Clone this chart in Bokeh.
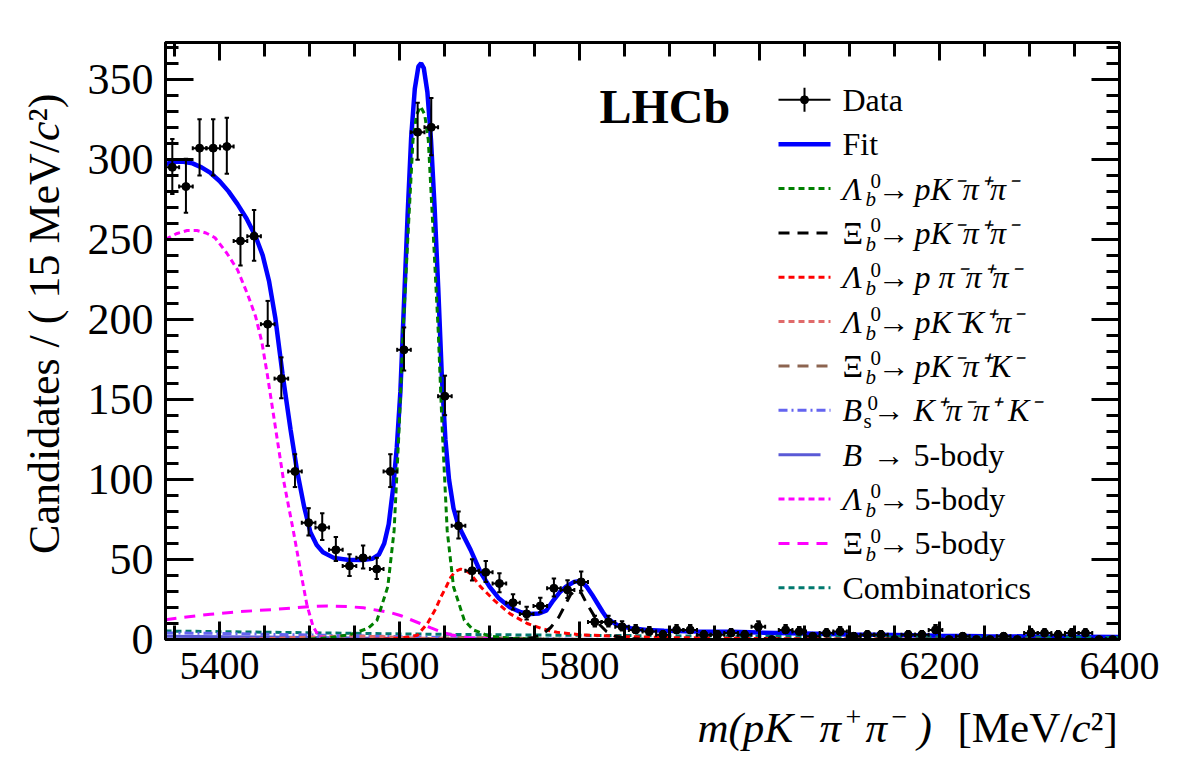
import numpy as np
from bokeh.plotting import figure
from bokeh.layouts import row, column
from bokeh.models import Range1d, LinearAxis, FixedTicker, ColumnDataSource
from bokeh.core.properties import value
from bokeh.embed import file_html
from bokeh.resources import INLINE

SERIF = "Liberation Serif"

# ---------------------------------------------------------------- data ----
# m(pK-pi+pi-) histogram: 70 bins between 5340 and 6400 MeV/c^2
mass_lo, mass_hi, n_bins = 5340.0, 6400.0, 70
counts = [295, 283, 307, 307, 308, 249, 252, 197, 163, 105,
          73, 70, 56, 46, 51, 44, 105, 181, 317, 320,
          152, 71, 43, 42, 35, 23, 16, 21, 32, 31,
          36, 11, 11, 8, 6, 5, 3, 6, 6, 3,
          3, 4, 3, 8, 0, 6, 5, 2, 4, 5,
          2, 3, 3, 0, 3, 3, 6, 0, 2, 0,
          0, 2, 0, 4, 4, 3, 4, 4, 0, 0]

# total fit
fit_m = [5340, 5350, 5360, 5370, 5380, 5390, 5400, 5410, 5420, 5430, 5440, 5448,
         5455, 5462, 5470, 5479, 5486, 5494, 5501, 5508, 5515, 5527, 5542, 5558,
         5570, 5577, 5583, 5588, 5593, 5597, 5601, 5605, 5609, 5613, 5617, 5621,
         5624, 5627, 5631, 5635, 5639, 5643, 5647, 5651, 5655, 5660, 5665, 5670,
         5679, 5690, 5700, 5710, 5723, 5735, 5745, 5755, 5763, 5771, 5778, 5785,
         5794, 5801, 5808, 5814, 5820, 5826, 5831, 5842, 5857, 5875, 5894, 5930,
         5968, 6000, 6050, 6100, 6150, 6200, 6250, 6300, 6350, 6400]
fit_v = [297, 298.5, 298.5, 297.5, 295, 291.5, 286.5, 280, 272, 263, 252, 240,
         224, 201, 166, 131, 106, 83, 67, 59, 54.5, 51, 49.8, 49.6,
         50.5, 53, 60, 72, 95, 120, 155, 210, 265, 314, 344, 358,
         360, 357, 342, 312, 270, 220, 165, 125, 100, 82, 72, 66,
         56, 42, 33, 26, 20, 17, 16, 16.3, 18, 24.5, 29.5, 33,
         36, 36.6, 33, 28, 22.5, 17, 13, 9, 7, 6, 5.4, 5,
         4.8, 4.3, 3.8, 3.2, 2.8, 2.4, 2.1, 1.9, 1.7, 1.5]

# Lambda_b0 -> p K- pi+ pi-
lb_pkpipi_m = [5490, 5520, 5545, 5565, 5575, 5587, 5594, 5599.5, 5604, 5609, 5615, 5619,
               5623.5, 5628, 5632, 5638, 5643, 5647.5, 5653, 5660, 5672, 5682, 5700, 5730, 5780]
lb_pkpipi_v = [0, 1, 3, 7, 12, 33, 68, 131, 193, 248, 312, 328,
               333, 328, 312, 248, 193, 131, 68, 33, 12, 6, 2, 0.5, 0]

# Xi_b0 -> p K- pi+ pi-
xb_pkpipi_m = [5700, 5750, 5760, 5768, 5777, 5784, 5790, 5796, 5802, 5808, 5815, 5822, 5830, 5840, 5855, 5880]
xb_pkpipi_v = [0, 1.2, 3.7, 7.5, 14, 21.5, 28, 31, 29, 22.5, 16, 9.5, 5, 2, 0.5, 0]

# Lambda_b0 -> p pi- pi+ pi-
lb_ppipipi_m = [5560, 5590, 5610, 5620, 5631, 5640, 5646, 5652, 5657, 5662, 5668, 5674,
                5679, 5690, 5705, 5723, 5742, 5760, 5775, 5800, 5850, 5900, 6000, 6100, 6400]
lb_ppipipi_v = [0, 0.5, 1.5, 2.7, 10, 19, 26.6, 33, 39, 42.5, 44, 43,
                41, 33, 24.6, 16, 10, 6.5, 4.5, 3, 1.8, 1.2, 0.6, 0.3, 0]

# Lambda_b0 -> p K- K+ pi-
lb_pkkpi_m = [5400, 5450, 5500, 5540, 5580, 5620, 5680, 5750]
lb_pkkpi_v = [0, 0.5, 1.5, 2.2, 1.8, 0.8, 0.2, 0]

# Xi_b0 -> p K- pi+ K-
xb_pkpik_m = [5580, 5630, 5670, 5710, 5760, 5820]
xb_pkpik_v = [0, 0.5, 1.2, 1.0, 0.3, 0]

# B_s0 -> K+ pi- pi+ K-
bs_kpipik_m = [5340, 5400, 5500, 5600, 5700, 5800, 5900]
bs_kpipik_v = [4.1, 3.8, 2.8, 1.8, 0.7, 0.2, 0]

# B -> 5-body
b_5body_m = [5340, 5450, 5550, 5650, 5750, 5850]
b_5body_v = [2.0, 1.5, 0.9, 0.4, 0.1, 0]

# Lambda_b0 -> 5-body
lb_5body_m = [5340, 5352, 5364, 5375, 5385, 5395, 5408, 5420, 5431, 5440, 5447, 5453,
              5462, 5471, 5482, 5490, 5497, 5504, 5510, 5518, 5530]
lb_5body_v = [250, 253.5, 255.5, 255.5, 254, 251, 241.5, 231, 216, 202, 186, 166,
              133, 100, 68, 43, 22, 8, 2.5, 0.3, 0]

# Xi_b0 -> 5-body
xb_5body_m = [5340, 5360, 5390, 5420, 5464, 5500, 5520, 5542, 5560, 5575, 5590, 5601,
              5612, 5623, 5635, 5646, 5657, 5668, 5680, 5700, 5730]
xb_5body_v = [12.3, 13.8, 15.8, 17.3, 18.9, 20.5, 21, 20.6, 19.8, 18.3, 16.8, 15,
              12.5, 10, 7.2, 4.8, 3, 1.9, 1, 0.4, 0]

# combinatorial background
comb_m = [5340, 5400, 5500, 5600, 5700, 5800, 5900, 6000, 6100, 6200, 6300, 6400]
comb_v = [5.3, 4.9, 4.2, 3.5, 3.0, 2.6, 2.3, 2.0, 1.8, 1.6, 1.4, 1.3]

x_ticks = [5400, 5600, 5800, 6000, 6200, 6400]
y_ticks = [0, 50, 100, 150, 200, 250, 300, 350]
y_hi = 373.0

# ------------------------------------------------------------ layout ----
W, H = 1182, 763
YT_W = 75            # strip holding the y-axis title
XT_H = 64            # strip holding the x-axis title
MAIN_W, MAIN_H = W - YT_W, H - XT_H
FRAME_L, FRAME_R, FRAME_T, FRAME_B = 165, 1119, 42, 639   # page pixels
BASE_SHIFT = 0.36    # baseline correction for text glyphs, in units of font size


def anchor(base_px, size_px):
    """Anchor position (page px) that puts a text baseline at base_px."""
    return base_px - BASE_SHIFT * size_px


p = figure(width=MAIN_W, height=MAIN_H,
           x_range=Range1d(mass_lo, mass_hi), y_range=Range1d(0, y_hi),
           output_backend="svg", toolbar_location=None,
           min_border_left=FRAME_L - YT_W, min_border_right=W - FRAME_R,
           min_border_top=FRAME_T, min_border_bottom=MAIN_H - FRAME_B)
p.xgrid.visible = False
p.ygrid.visible = False
p.outline_line_color = "black"
p.outline_line_width = 3
p.background_fill_color = "white"
p.border_fill_color = "white"


def px_to_mass(px):
    return mass_lo + (px - FRAME_L) / (FRAME_R - FRAME_L) * (mass_hi - mass_lo)


def px_to_val(py):
    return (FRAME_B - py) / (FRAME_B - FRAME_T) * y_hi


def style_axis(ax, ticker, major_len, minor_len):
    ax.ticker = ticker
    ax.major_tick_in = major_len
    ax.major_tick_out = 0
    ax.minor_tick_in = minor_len
    ax.minor_tick_out = 0
    ax.major_tick_line_width = 3
    ax.minor_tick_line_width = 3
    ax.axis_line_width = 3
    ax.major_label_text_font = SERIF
    ax.major_label_text_color = "black"


x_ticker = FixedTicker(ticks=x_ticks, minor_ticks=list(range(5350, 6401, 50)))
y_ticker = FixedTicker(ticks=y_ticks, minor_ticks=list(range(0, 371, 10)))

style_axis(p.xaxis[0], x_ticker, 18, 14)
p.xaxis[0].major_label_text_font_size = "40px"
p.xaxis[0].major_label_standoff = 13
style_axis(p.yaxis[0], y_ticker, 28, 13)
p.yaxis[0].major_label_text_font_size = "44px"
p.yaxis[0].major_label_standoff = 12

# mirrored tick marks on the top and right edges, without labels
top_axis = LinearAxis()
style_axis(top_axis, x_ticker, 18, 14)
top_axis.major_label_overrides = {t: "" for t in x_ticks}
top_axis.major_label_standoff = 0
p.add_layout(top_axis, "above")
right_axis = LinearAxis()
style_axis(right_axis, y_ticker, 28, 13)
right_axis.major_label_overrides = {t: "" for t in y_ticks}
right_axis.major_label_standoff = 0
p.add_layout(right_axis, "right")

# ----------------------------------------------------------- curves ----
p.line(fit_m, fit_v, line_color="#0000ff", line_width=4.5)

components = [
    (comb_m, comb_v, "#00786e", "6 4"),
    (b_5body_m, b_5body_v, "#5a5ad6", "solid"),
    (bs_kpipik_m, bs_kpipik_v, "#6464f0", "9 4 2 4"),
    (xb_pkpik_m, xb_pkpik_v, "#8c6450", "11 8"),
    (lb_pkkpi_m, lb_pkkpi_v, "#e06a6a", "6 4"),
    (xb_5body_m, xb_5body_v, "#ff00ff", "11 8"),
    (lb_5body_m, lb_5body_v, "#ff00ff", "6 4"),
    (lb_ppipipi_m, lb_ppipipi_v, "#ff0000", "6 4"),
    (xb_pkpipi_m, xb_pkpipi_v, "#000000", "11 8"),
    (lb_pkpipi_m, lb_pkpipi_v, "#007f00", "6 4"),
]
for m, v, col, dash in components:
    p.line(m, v, line_color=col, line_width=3, line_dash=dash)

# ------------------------------------------------------------- data ----
edges = np.linspace(mass_lo, mass_hi, n_bins + 1)
centers = 0.5 * (edges[:-1] + edges[1:])
half = 0.5 * (edges[1] - edges[0])
n = np.array(counts, dtype=float)
# approximate Poisson interval around each count
y_low = np.where(n > 0, n - np.sqrt(n + 0.25) + 0.5, 0.0)
y_up = n + np.sqrt(n + 0.25) + 0.5

cap_m = 2.2 * (mass_hi - mass_lo) / (FRAME_R - FRAME_L)
cap_v = 2.0 * y_hi / (FRAME_B - FRAME_T)

src = ColumnDataSource(dict(x=centers, y=n, lo=y_low, up=y_up,
                            xl=centers - half, xr=centers + half))
p.segment(x0="x", y0="lo", x1="x", y1="up", source=src, line_color="black", line_width=2)
p.segment(x0="xl", y0="y", x1="xr", y1="y", source=src, line_color="black", line_width=2)
p.segment(x0=centers - cap_m, y0=y_up, x1=centers + cap_m, y1=y_up, line_color="black", line_width=2)
p.segment(x0=centers - cap_m, y0=y_low, x1=centers + cap_m, y1=y_low, line_color="black", line_width=2)
p.segment(x0=centers - half, y0=n - cap_v, x1=centers - half, y1=n + cap_v, line_color="black", line_width=2)
p.segment(x0=centers + half, y0=n - cap_v, x1=centers + half, y1=n + cap_v, line_color="black", line_width=2)
p.scatter(x="x", y="y", source=src, size=8, marker="circle", fill_color="black", line_color="black")

# ---------------------------------------------------------- legend ----
ROW0, ROW_STEP = 99.3, 44.36
SAMPLE_L, SAMPLE_R = 778, 830
TEXT_X = 842
MAIN, SMALL = 32, 21

pieces = {}  # (size, style) -> list of (px, baseline_py, text)


def add_piece(px, base, text, size=MAIN, style="normal"):
    pieces.setdefault((size, style), []).append((px, base, text))


def particle(row_y, symbol, sub, sym_style, sub_style, sub_dx, sup_dx):
    add_piece(TEXT_X, row_y + 11.5, symbol, MAIN, sym_style)
    add_piece(TEXT_X + sup_dx, row_y, "0", SMALL, "normal")
    add_piece(TEXT_X + sub_dx, row_y + 18.5, sub, SMALL, sub_style)


entries = [
    ("data", None, None),
    ("#0000ff", "solid", 4.5),
    ("#007f00", "6 4", 3),
    ("#000000", "11 8", 3),
    ("#ff0000", "6 4", 3),
    ("#e06a6a", "6 4", 3),
    ("#8c6450", "11 8", 3),
    ("#6464f0", "9 4 2 4", 3),
    ("#5a5ad6", "solid", 3),
    ("#ff00ff", "6 4", 3),
    ("#ff00ff", "11 8", 3),
    ("#00786e", "6 4", 3),
]
rows = [ROW0 + ROW_STEP * k for k in range(len(entries))]
for k, (col, dash, lw) in enumerate(entries):
    yc = rows[k]
    yv = px_to_val(yc)
    if col == "data":
        p.segment(x0=[px_to_mass(SAMPLE_L)], y0=[yv], x1=[px_to_mass(SAMPLE_R)], y1=[yv],
                  line_color="black", line_width=2)
        p.segment(x0=[px_to_mass(804)], y0=[px_to_val(yc + 12)], x1=[px_to_mass(804)],
                  y1=[px_to_val(yc - 12)], line_color="black", line_width=2)
        p.scatter(x=[px_to_mass(804)], y=[yv], size=8, fill_color="black", line_color="black")
        continue
    right = 820 if k == 8 else SAMPLE_R
    p.line([px_to_mass(SAMPLE_L), px_to_mass(right)], [yv, yv],
           line_color=col, line_width=lw, line_dash=dash)

add_piece(TEXT_X, rows[0] + 11.5, "Data")
add_piece(TEXT_X, rows[1] + 11.5, "Fit")

decays = [
    (2, "Λ", "italic", "pK⁻π⁺π⁻", "italic"),
    (3, "Ξ", "normal", "pK⁻π⁺π⁻", "italic"),
    (4, "Λ", "italic", "p π⁻π⁺π⁻", "italic"),
    (5, "Λ", "italic", "pK⁻K⁺π⁻", "italic"),
    (6, "Ξ", "normal", "pK⁻π⁺K⁻", "italic"),
    (9, "Λ", "italic", "5-body", "normal"),
    (10, "Ξ", "normal", "5-body", "normal"),
]
for k, sym, sym_style, prod, prod_style in decays:
    yc = rows[k]
    particle(yc, sym, "b", sym_style, "italic", 23, 28)
    add_piece(877, yc + 11.5, "→")
    add_piece(914, yc + 11.5, prod, MAIN, prod_style)

yc = rows[7]
particle(yc, "B", "s", "italic", "normal", 21, 25)
add_piece(872, yc + 11.5, "→")
add_piece(913, yc + 11.5, "K⁺π⁻π⁺ K⁻", MAIN, "italic")

yc = rows[8]
add_piece(TEXT_X, yc + 11.5, "B", MAIN, "italic")
add_piece(872, yc + 11.5, "→")
add_piece(913, yc + 11.5, "5-body")
add_piece(TEXT_X, rows[11] + 11.5, "Combinatorics")

for (size, style), items in pieces.items():
    p.text(x=[px_to_mass(a) for a, _, _ in items],
           y=[px_to_val(anchor(b, size)) for _, b, _ in items],
           text=[t for _, _, t in items],
           text_font=value(SERIF), text_font_size=f"{size}px", text_font_style=style,
           text_align="left", text_baseline="alphabetic", text_color="black")

# experiment tag
p.text(x=[px_to_mass(599)], y=[px_to_val(anchor(123, 48))], text=["LHCb"],
       text_font=value(SERIF), text_font_size="48px", text_font_style="bold",
       text_align="left", text_baseline="alphabetic", text_color="black")


# ------------------------------------------------------- axis titles ----
def title_strip(w, h):
    f = figure(frame_width=w, frame_height=h, x_range=Range1d(0, w), y_range=Range1d(0, h),
               output_backend="svg", toolbar_location=None,
               x_axis_location=None, y_axis_location=None,
               min_border_left=0, min_border_right=0, min_border_top=0, min_border_bottom=0,
               outline_line_color=None)
    f.xgrid.visible = False
    f.ygrid.visible = False
    f.background_fill_color = "white"
    f.border_fill_color = "white"
    return f


# y title, read bottom-to-top, ending near the top of the frame
Y_TITLE = 44
yt = title_strip(YT_W, MAIN_H)
y_base = 60
y_parts = [  # (text, end position from page top, style)
    ("Candidates / ( 15 MeV/", 98.4, "normal"),
    ("c", 78.9, "italic"),
    ("²", 65.7, "normal"),
    (" )", 40.0, "normal"),
]
for text, end_py, style in y_parts:
    yt.text(x=[anchor(y_base, Y_TITLE)], y=[MAIN_H - end_py], text=[text], angle=np.pi / 2,
            text_font=value(SERIF), text_font_size=f"{Y_TITLE}px", text_font_style=style,
            text_align="right", text_baseline="alphabetic", text_color="black")

# x title, right-aligned under the frame (strip spans the full page width)
X_TITLE, X_SUP = 43, 28
xt = title_strip(W, XT_H)
x_base_py = 742
x_parts = [  # (text, page x, baseline raise, size, style)
    ("m(p", 697, 0, X_TITLE, "italic"),
    ("K", 764, 0, X_TITLE, "italic"),
    ("−", 799, 15, X_SUP, "normal"),
    ("π", 819, 0, X_TITLE, "italic"),
    ("+", 845, 15, X_SUP, "normal"),
    ("π", 865, 0, X_TITLE, "italic"),
    ("−", 891, 15, X_SUP, "normal"),
    (")", 917, 0, X_TITLE, "italic"),
    ("[MeV/", 957, 0, X_TITLE, "normal"),
    ("c", 1071, 0, X_TITLE, "italic"),
    ("²]", 1090, 0, X_TITLE, "normal"),
]
for text, px, rise, size, style in x_parts:
    xt.text(x=[px], y=[H - anchor(x_base_py - rise, size)], text=[text],
            text_font=value(SERIF), text_font_size=f"{size}px", text_font_style=style,
            text_align="left", text_baseline="alphabetic", text_color="black")

layout = column(row(yt, p, spacing=0), xt, spacing=0)
open("out.html", "w").write(file_html(layout, INLINE))
